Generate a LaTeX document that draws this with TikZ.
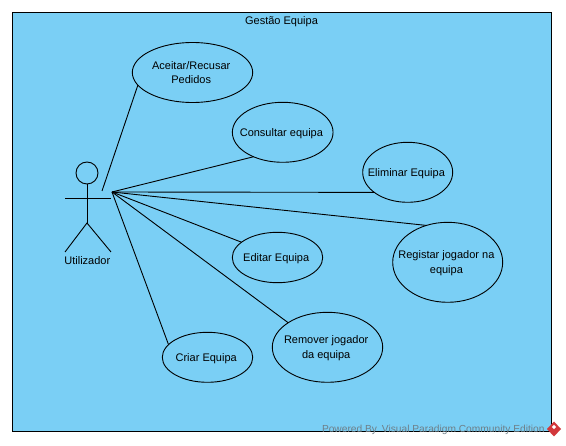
\documentclass[tikz,border=0pt]{standalone}
\usepackage{fontspec}
\setmainfont{Liberation Sans}
\usetikzlibrary{shapes.geometric}
\definecolor{sysfill}{HTML}{7ACFF5}
\definecolor{markgray}{HTML}{6E7F88}
\definecolor{markred}{HTML}{D2383C}
\newcommand{\uctext}[1]{\smash{\makebox[0pt]{\kern-2.6pt\raisebox{-3.6pt}{\begin{tabular}{@{}c@{}}#1\end{tabular}}}}}
\tikzset{
  usecase/.style={draw=black,line width=0.9pt,ellipse,inner sep=0pt,outer sep=0pt,font=\fontsize{11}{14.5}\selectfont},
  lbl/.style={inner sep=0pt,outer sep=0pt,align=center,font=\fontsize{11}{14.5}\selectfont},
  link/.style={draw=black,line width=0.9pt},
  actorline/.style={draw=black,line width=0.9pt},
  sysbox/.style={draw=black,line width=1pt,fill=sysfill,inner sep=0pt,outer sep=0pt}
}
\begin{document}
\begin{tikzpicture}[x=1pt,y=-1pt]
\useasboundingbox (0,0) rectangle (566,446);
\node[sysbox,minimum width=539pt,minimum height=418.5pt] (system) at (282.4,222.2) {};
\node[lbl] (title) at (281.5,21.2) {Gestão Equipa};
% actor
\node[draw=black,line width=0.9pt,circle,minimum size=22pt,inner sep=0pt,outer sep=0pt] (head) at (87,173) {};
\coordinate (hip) at (87,223);
\coordinate (armL) at (65,198);
\coordinate (armR) at (111,198);
\coordinate (footL) at (65,252);
\coordinate (footR) at (111,252);
\draw[actorline] (head.south) -- (hip);
\draw[actorline] (armL) -- (armR);
\draw[actorline] (footL) -- (hip) -- (footR);
\node[lbl] (actorlabel) at (87.3,260.8) {Utilizador};
\coordinate (hub) at (112,192);
\coordinate (hubtop) at (102,191);
% use cases
\node[usecase,minimum width=120.4pt,minimum height=60pt] (aceitar) at (192.5,72.5) {\uctext{Aceitar/Recusar\\Pedidos}};
\node[usecase,minimum width=100.7pt,minimum height=60pt] (consultar) at (282.7,132.3) {\uctext{Consultar equipa}};
\node[usecase,minimum width=90pt,minimum height=60pt] (eliminar) at (407.7,172.3) {\uctext{Eliminar Equipa}};
\node[usecase,minimum width=110pt,minimum height=80pt] (registar) at (447.7,262.3) {\uctext{Registar jogador na\\equipa}};
\node[usecase,minimum width=90.4pt,minimum height=50.4pt] (editar) at (277.5,257.5) {\uctext{Editar Equipa}};
\node[usecase,minimum width=110.4pt,minimum height=70pt] (remover) at (327.5,347.3) {\uctext{Remover jogador\\da equipa}};
\node[usecase,minimum width=90.4pt,minimum height=50pt] (criar) at (207.5,357.3) {\uctext{Criar Equipa}};
% connectors
\draw[link] (hubtop) -- (aceitar.193);
\draw[link] (hub) -- (consultar.220);
\draw[link] (hub) -- (eliminar.211);
\draw[link] (hub) -- (registar.120);
\draw[link] (hub) -- (editar.157.6);
\draw[link] (hub) -- (remover.148);
\draw[link] (hub) -- (criar.162.5);
% watermark
\node[inner sep=0pt,outer sep=0pt,text=markgray,anchor=west,font=\fontsize{10.2}{12}\selectfont] (mark) at (322,430) {Powered By\hspace{5pt}Visual Paradigm Community Edition};
\node[diamond,fill=markred,minimum width=14pt,minimum height=15pt,inner sep=0pt,outer sep=0pt] (logo) at (554,429) {};
\node[rectangle,fill=white,rotate=45,minimum size=3pt,inner sep=0pt] (logodot) at (554,427) {};
\end{tikzpicture}
\end{document}
